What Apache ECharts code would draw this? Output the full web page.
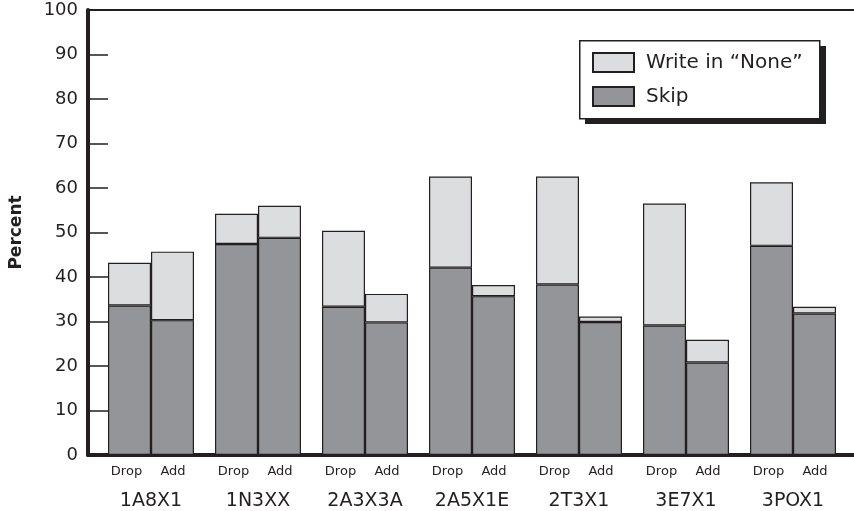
<!DOCTYPE html>
<html>
<head>
<meta charset="utf-8">
<script src="https://cdn.jsdelivr.net/npm/echarts@6/dist/echarts.min.js"></script>
<style>
html,body{margin:0;padding:0;background:#fff;}
#c{width:854px;height:511px;}
</style>
</head>
<body>
<div id="c"></div>
<script>
const groups = ['1A8X1', '1N3XX', '2A3X3A', '2A5X1E', '2T3X1', '3E7X1', '3POX1'];
const subLabels = ['Drop', 'Add'];
const yTicks = [0, 10, 20, 30, 40, 50, 60, 70, 80, 90, 100];
const dropSkip = [33.6, 47.4, 33.3, 42.1, 38.3, 29.1, 47.0];
const dropNone = [9.6, 6.8, 17.1, 20.5, 24.3, 27.4, 14.3];
const addSkip  = [30.3, 48.8, 29.8, 35.7, 29.9, 20.8, 31.8];
const addNone  = [15.4, 7.2, 6.4, 2.5, 1.2, 5.1, 1.5];
const seriesNames = ['Write in \u201cNone\u201d', 'Skip'];

const INK = '#231f20';
const LIGHT = '#dcdddf';
const DARK = '#939598';
const FONT = 'DejaVu Sans';

const chart = echarts.init(document.getElementById('c'), null, {renderer: 'canvas'});

function barSeries(name, data, stack, color) {
  return {
    name: name, type: 'bar', stack: stack, data: data,
    xAxisIndex: 2, yAxisIndex: 1,
    barWidth: 43, barGap: '0%',
    itemStyle: {color: color, borderColor: INK, borderWidth: 1.2},
    emphasis: {disabled: true},
    animation: false
  };
}

chart.setOption({
  animation: false,
  textStyle: {fontFamily: FONT, color: INK},
  grid: [
    {left: 86, right: 0, top: 10, bottom: 56},
    {left: 97.5, width: 749, top: 10, bottom: 56}
  ],
  xAxis: [
    {gridIndex: 0, type: 'value', min: 0, max: 1, position: 'bottom',
     axisLine: {show: true, onZero: false, lineStyle: {color: INK, width: 4}},
     axisTick: {show: false}, axisLabel: {show: false}, splitLine: {show: false}},
    {gridIndex: 0, type: 'value', min: 0, max: 1, position: 'top',
     axisLine: {show: true, onZero: false, lineStyle: {color: INK, width: 2}},
     axisTick: {show: false}, axisLabel: {show: false}, splitLine: {show: false}},
    {gridIndex: 1, type: 'category', data: groups, position: 'bottom',
     axisLine: {show: false}, axisTick: {show: false}, splitLine: {show: false},
     axisLabel: {
       interval: 0, margin: 5, color: INK, fontFamily: FONT,
       formatter: function (v) {
         return '{d1|' + subLabels[0] + '}{d2|' + subLabels[1] + '}\n{g|' + v + '}';
       },
       rich: {
         d1: {width: 44, align: 'center', fontSize: 13, lineHeight: 24, color: INK, fontFamily: FONT},
         d2: {width: 49, align: 'center', fontSize: 13, lineHeight: 24, color: INK, fontFamily: FONT},
         g: {fontSize: 19, lineHeight: 34, color: INK, fontFamily: FONT}
       }
     }}
  ],
  yAxis: [
    {gridIndex: 0, type: 'value', min: yTicks[0], max: yTicks[yTicks.length - 1], interval: 10,
     name: 'Percent', nameLocation: 'middle', nameGap: 63, nameRotate: 90,
     nameTextStyle: {fontSize: 17, fontWeight: 'bold', color: INK, fontFamily: FONT},
     axisLine: {show: true, lineStyle: {color: INK, width: 4}},
     axisTick: {show: true, inside: true, length: 20, lineStyle: {color: INK, width: 1.5}},
     axisLabel: {fontSize: 18, color: INK, margin: 10, fontFamily: FONT},
     splitLine: {show: false}},
    {gridIndex: 1, type: 'value', min: 0, max: 100, show: false, splitLine: {show: false}}
  ],
  legend: {
    data: seriesNames, orient: 'vertical', left: 592, top: 52, padding: 0,
    itemWidth: 41, itemHeight: 19, itemGap: 13, icon: 'rect', selectedMode: false,
    textStyle: {fontSize: 20, color: INK, fontFamily: FONT, padding: [0, 0, 0, 7]},
    z: 10
  },
  graphic: [
    {type: 'rect', left: 585, top: 46, shape: {width: 241, height: 78}, style: {fill: INK}, z: 5},
    {type: 'rect', left: 579, top: 40, shape: {width: 240, height: 78}, style: {fill: '#fff', stroke: INK, lineWidth: 1.5}, z: 6}
  ],
  series: [
    barSeries(seriesNames[1], dropSkip, 'drop', DARK),
    barSeries(seriesNames[0], dropNone, 'drop', LIGHT),
    barSeries(seriesNames[1], addSkip, 'add', DARK),
    barSeries(seriesNames[0], addNone, 'add', LIGHT)
  ]
});
</script>
</body>
</html>
